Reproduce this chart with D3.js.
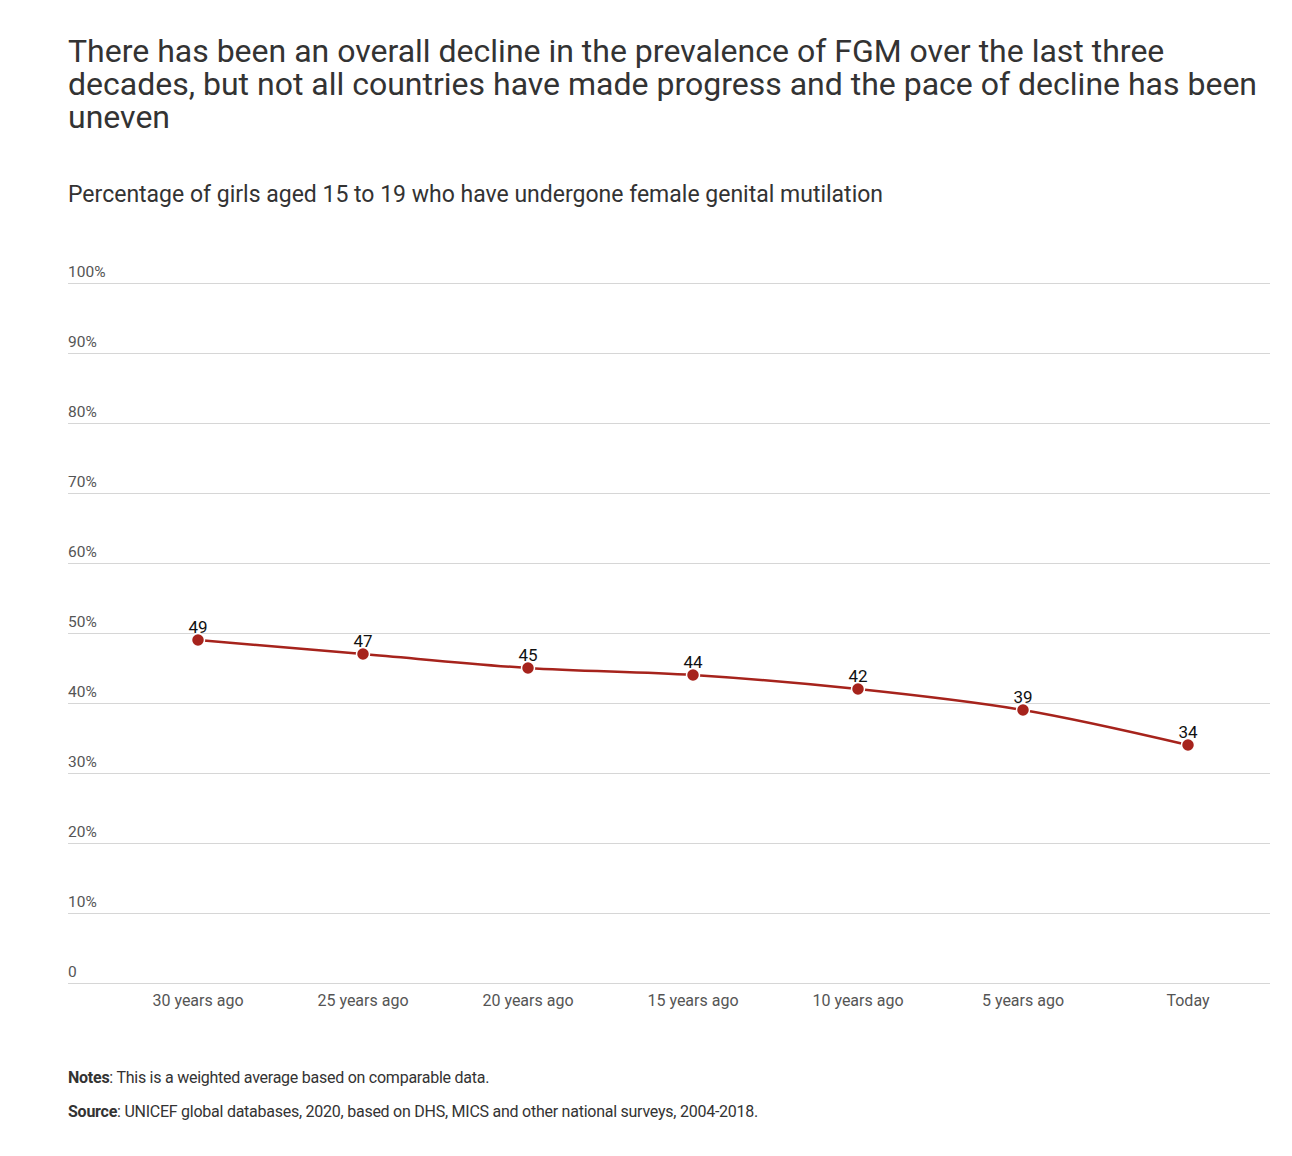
<!DOCTYPE html>
<html>
<head>
    <meta charset="utf-8">
    <style>
        body{
            margin: 0;
            background: #fff;
            font-family: Roboto, sans-serif;
        }
        .headline{
            position: absolute;
            left: 68px;
            top: 35px;
            width: 1210px;
            margin: 0;
            font-size: 32px;
            font-weight: 400;
            line-height: 33px;
            color: #333;
        }
        .subhead{
            position: absolute;
            left: 68px;
            top: 181px;
            margin: 0;
            font-size: 23px;
            font-weight: 400;
            color: #333;
        }
        .notes{
            position: absolute;
            left: 68px;
            font-size: 16px;
            color: #333;
            letter-spacing: -0.25px;
        }
    </style>
</head>

<body>
    <h1 class="headline">
        There has been an overall decline in the prevalence of FGM over the last three decades, but not all countries have made progress and the pace of decline has been uneven
    </h1>
    <div class="subhead">Percentage of girls aged 15 to 19 who have undergone female genital mutilation</div>

    <svg width="1292" height="1156" style="position:absolute;left:0;top:0"></svg>

    <div class="notes" style="top:1068px"><b>Notes</b>: This is a weighted average based on comparable data.</div>
    <div class="notes" style="top:1102px"><b>Source</b>: UNICEF global databases, 2020, based on DHS, MICS and other national surveys, 2004-2018.</div>
</body>

<script src="https://d3js.org/d3.v7.min.js"></script>

<script>
    let periods = ["30 years ago", "25 years ago", "20 years ago", "15 years ago", "10 years ago", "5 years ago", "Today"]
    let prevalence = [49, 47, 45, 44, 42, 39, 34]
    let yTicks = [0, 10, 20, 30, 40, 50, 60, 70, 80, 90, 100]

    let data = periods.map((p, i) => ({period: p, value: prevalence[i]}))

    let svg = d3.select("svg")

    let x = d3.scaleBand()
        .domain(periods)
        .range([115.5, 1270.5])

    let y = d3.scaleLinear()
        .domain([0, 100])
        .range([983, 283])

    // gridlines + labels
    let grid = svg.append("g")
    grid.selectAll("line")
        .data(yTicks)
        .join("line")
        .attr("x1", 68)
        .attr("x2", 1270)
        .attr("y1", d => y(d) + 0.5)
        .attr("y2", d => y(d) + 0.5)
        .style("stroke", "#d6d6d6")
        .style("stroke-width", 1)

    grid.selectAll("text")
        .data(yTicks)
        .join("text")
        .attr("x", 68)
        .attr("y", d => y(d) - 6)
        .text(d => d == 0 ? "0" : d + "%")
        .style("font-size", "15.5px")
        .style("fill", "#555")

    // x axis labels
    svg.append("g")
        .selectAll("text")
        .data(periods)
        .join("text")
        .attr("x", d => x(d) + x.bandwidth() / 2)
        .attr("y", 1006)
        .attr("text-anchor", "middle")
        .text(d => d)
        .style("font-size", "16px")
        .style("fill", "#555")

    let line = d3.line()
        .x(d => x(d.period) + x.bandwidth() / 2)
        .y(d => y(d.value))
        .curve(d3.curveMonotoneX)

    svg.append("path")
        .datum(data)
        .attr("d", line)
        .style("fill", "none")
        .style("stroke", "#a6231c")
        .style("stroke-width", 2.5)

    svg.append("g")
        .selectAll("circle")
        .data(data)
        .join("circle")
        .attr("cx", d => x(d.period) + x.bandwidth() / 2)
        .attr("cy", d => y(d.value))
        .attr("r", 6.5)
        .style("fill", "#a6231c")
        .style("stroke", "#fff")
        .style("stroke-width", 1.5)

    svg.append("g")
        .selectAll("text")
        .data(data)
        .join("text")
        .attr("x", d => x(d.period) + x.bandwidth() / 2)
        .attr("y", d => y(d.value) - 7)
        .attr("text-anchor", "middle")
        .text(d => d.value)
        .style("font-size", "17px")
        .style("fill", "#111")
</script>
</html>
